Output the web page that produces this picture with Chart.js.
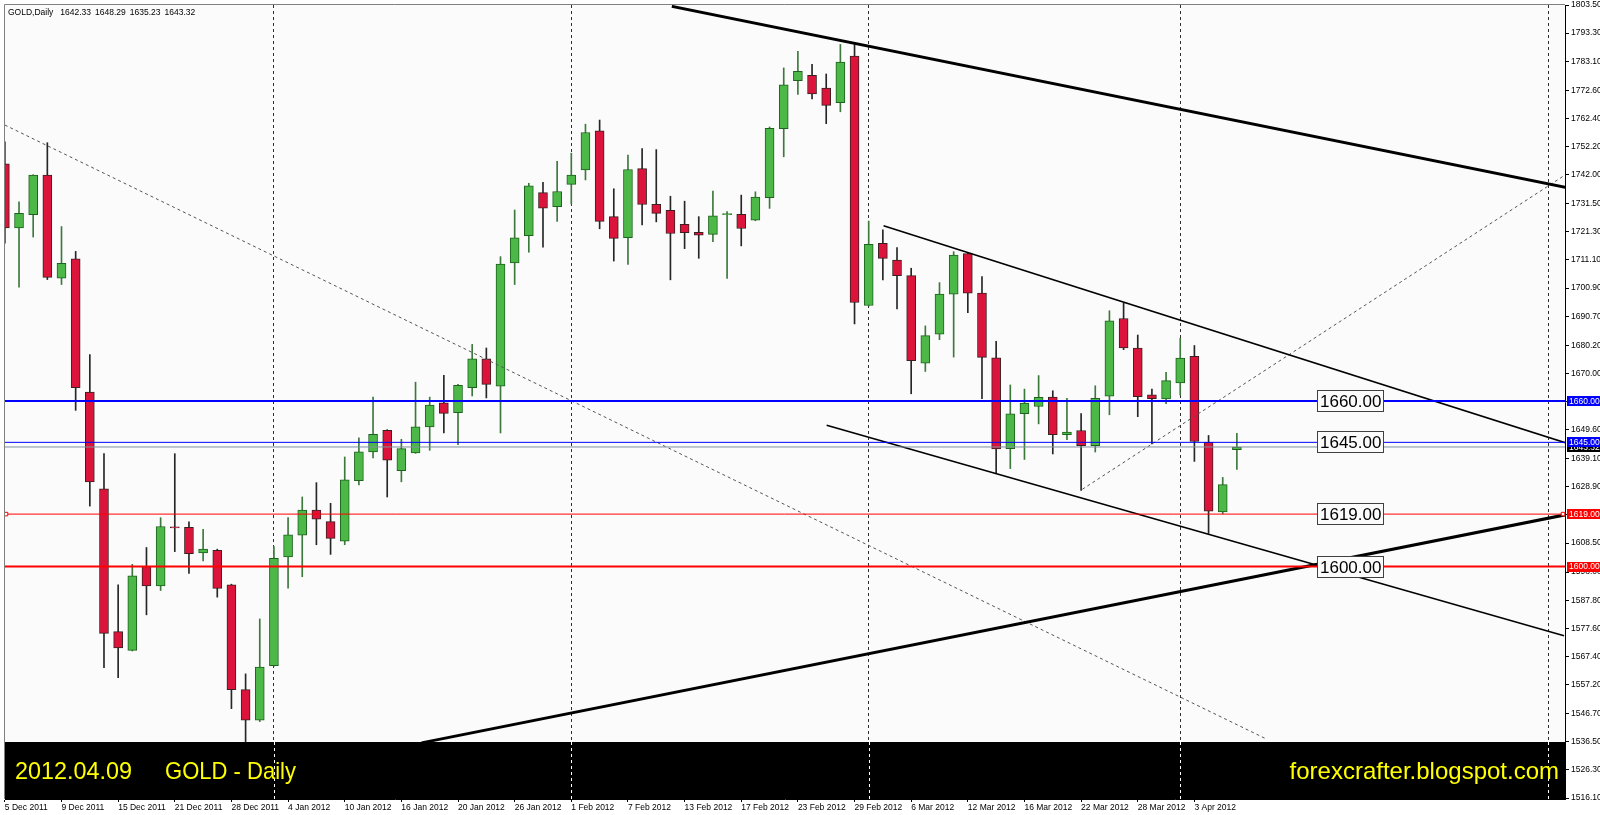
<!DOCTYPE html>
<html>
<head>
<meta charset="utf-8">
<title>GOLD Daily</title>
<script src="https://cdn.jsdelivr.net/npm/chart.js@4.4.1/dist/chart.umd.min.js"></script>
<style>
  html, body { margin: 0; padding: 0; background: #fff; }
  canvas { display: block; }
</style>
</head>
<body>
<canvas id="chart" width="1600" height="815"></canvas>
<script>
// Daily OHLC bars, 5 Dec 2011 .. 9 Apr 2012
const opens = [
  1745.9, 1722.7, 1727.5, 1741.9, 1704.5, 1711.5, 1663.2, 1628.2, 1576.4, 1569.6,
  1600.0, 1593.0, 1614.4, 1614.2, 1604.9, 1605.9, 1593.4, 1555.4, 1544.3, 1564.1,
  1603.5, 1611.4, 1620.5, 1616.3, 1609.2, 1631.1, 1641.5, 1649.4, 1634.7, 1641.2,
  1650.6, 1659.3, 1655.8, 1664.8, 1675.3, 1665.4, 1710.0, 1719.9, 1735.5, 1730.4,
  1738.5, 1743.7, 1757.9, 1726.8, 1719.2, 1744.2, 1731.3, 1729.1, 1724.0, 1721.1,
  1720.4, 1727.5, 1727.6, 1725.5, 1733.7, 1758.7, 1776.1, 1778.0, 1773.4, 1768.1,
  1785.0, 1694.6, 1717.1, 1711.1, 1705.4, 1673.7, 1684.2, 1698.7, 1713.4, 1699.1,
  1675.6, 1642.7, 1655.4, 1658.0, 1661.4, 1647.8, 1649.3, 1643.8, 1661.7, 1689.9,
  1679.2, 1662.2, 1660.7, 1666.5, 1676.2, 1645.0, 1619.8, 1642.33
];
const highs = [
  1753.9, 1732.2, 1742.0, 1753.6, 1723.2, 1714.2, 1676.8, 1640.9, 1593.4, 1600.8,
  1606.9, 1617.7, 1640.9, 1616.2, 1613.5, 1606.3, 1593.6, 1561.1, 1581.0, 1607.2,
  1617.7, 1625.2, 1630.4, 1622.9, 1639.7, 1646.6, 1661.4, 1649.6, 1646.1, 1666.8,
  1661.4, 1669.3, 1666.0, 1680.5, 1679.2, 1712.3, 1729.2, 1738.9, 1739.2, 1746.8,
  1749.8, 1760.3, 1761.8, 1736.9, 1749.1, 1751.5, 1751.1, 1734.2, 1732.4, 1726.8,
  1736.1, 1728.6, 1734.6, 1735.8, 1759.3, 1780.7, 1786.7, 1782.0, 1778.5, 1789.2,
  1789.2, 1725.2, 1722.0, 1715.6, 1708.1, 1687.2, 1702.9, 1714.1, 1713.6, 1705.1,
  1681.6, 1665.8, 1664.3, 1669.2, 1663.7, 1661.0, 1655.4, 1665.5, 1692.7, 1695.4,
  1683.9, 1664.3, 1670.4, 1682.7, 1680.1, 1647.5, 1632.3, 1648.29
];
const lows = [
  1717.2, 1701.2, 1719.4, 1704.0, 1702.2, 1656.6, 1621.9, 1563.3, 1559.7, 1569.4,
  1582.5, 1591.3, 1605.4, 1597.5, 1602.0, 1588.9, 1548.5, 1534.0, 1543.8, 1563.9,
  1592.2, 1596.3, 1607.9, 1604.4, 1607.9, 1629.6, 1639.4, 1625.2, 1630.7, 1641.0,
  1642.1, 1648.4, 1644.2, 1661.8, 1661.1, 1648.4, 1702.2, 1713.9, 1715.7, 1725.1,
  1731.4, 1740.1, 1722.4, 1710.7, 1709.5, 1723.8, 1724.9, 1703.9, 1715.2, 1711.7,
  1717.7, 1704.4, 1716.2, 1725.3, 1729.8, 1748.5, 1771.1, 1769.5, 1760.5, 1764.8,
  1687.9, 1694.4, 1703.9, 1693.4, 1662.6, 1670.7, 1682.2, 1675.9, 1692.0, 1660.8,
  1634.0, 1635.5, 1638.8, 1651.7, 1640.8, 1646.0, 1627.6, 1641.5, 1655.0, 1678.6,
  1654.3, 1644.4, 1659.0, 1662.2, 1638.1, 1612.0, 1619.1, 1635.23
];
const closes = [
  1722.7, 1728.0, 1741.9, 1704.8, 1709.9, 1664.8, 1630.7, 1575.8, 1570.5, 1596.6,
  1593.0, 1614.5, 1614.0, 1604.7, 1606.3, 1592.1, 1555.4, 1544.3, 1563.6, 1603.0,
  1611.5, 1620.5, 1617.2, 1610.2, 1631.4, 1641.6, 1647.9, 1638.5, 1642.7, 1650.6,
  1658.5, 1655.5, 1665.7, 1675.3, 1666.0, 1709.6, 1719.1, 1738.0, 1729.9, 1735.9,
  1741.9, 1757.3, 1725.1, 1718.9, 1743.9, 1731.2, 1728.0, 1720.7, 1721.0, 1720.1,
  1727.1, 1727.9, 1722.5, 1733.9, 1758.8, 1774.6, 1779.5, 1771.3, 1767.1, 1782.8,
  1695.7, 1716.8, 1711.7, 1705.4, 1674.6, 1683.7, 1698.7, 1712.9, 1699.1, 1675.8,
  1642.6, 1655.3, 1659.2, 1661.3, 1647.8, 1648.7, 1643.8, 1661.0, 1689.0, 1679.2,
  1661.6, 1660.8, 1667.4, 1675.5, 1645.3, 1620.1, 1629.7, 1643.32
];

// date labels, one every 4 bars
const dateLabels = [
  '5 Dec 2011', '9 Dec 2011', '15 Dec 2011', '21 Dec 2011', '28 Dec 2011',
  '4 Jan 2012', '10 Jan 2012', '16 Jan 2012', '20 Jan 2012', '26 Jan 2012',
  '1 Feb 2012', '7 Feb 2012', '13 Feb 2012', '17 Feb 2012', '23 Feb 2012',
  '29 Feb 2012', '6 Mar 2012', '12 Mar 2012', '16 Mar 2012', '22 Mar 2012',
  '28 Mar 2012', '3 Apr 2012'
];
const labelStep = 4;

// price scale ticks as the terminal prints them
const priceTicks = [
  1803.5, 1793.3, 1783.1, 1772.6, 1762.4, 1752.2, 1742.0, 1731.5, 1721.3, 1711.1,
  1700.9, 1690.7, 1680.2, 1670.0, 1659.8, 1649.6, 1639.1, 1628.9, 1618.7, 1608.5,
  1598.0, 1587.8, 1577.6, 1567.4, 1557.2, 1546.7, 1536.5, 1526.3, 1516.1
];

// bars where the dotted period separators sit
const separatorBars = [19, 40, 61, 83, 109];

// horizontal levels
const levels = [1660, 1645, 1619, 1600];

// trend lines, as [bar index] / [price] pairs
const resistX = [47.1, 110.24], resistY = [1803.0, 1737.4];
const supportX = [29.42, 110.24], supportY = [1536.1, 1618.8];
const chanTopX = [62.05, 110.24], chanTopY = [1723.5, 1644.8];
const chanBotX = [58.03, 110.1], chanBotY = [1651.2, 1574.9];
const fanX = [0, 89.0], fanY = [1760.0, 1537.7];
const riseX = [76.09, 110.24], riseY = [1628.0, 1742.1];

const bandTopPrice = 1536.4;

const X_MIN = 0.01, X_MAX = 110.17;
const Y_MIN = 1515.75, Y_MAX = 1803.5;

const FONT = 'Liberation Sans';

const barIdx = opens.map((o, i) => i);
const isUp = i => closes[i] >= opens[i];

function segment(xs, ys) {
    return xs.map((x, k) => ({ x: x, y: ys[k] }));
}

function lineSet(label, data, color, width, dash) {
    return {
        type: 'line',
        label: label,
        data: data,
        borderColor: color,
        borderWidth: width,
        borderDash: dash || [],
        pointRadius: 0,
        fill: false,
        tension: 0,
        order: 1,
        xAxisID: 'x',
        yAxisID: 'y'
    };
}

const lastBar = opens.length - 1;
const bidPrice = closes[lastBar];

const level1619 = lineSet('1619', segment([0.08, 110.03], [levels[2], levels[2]]), '#ff0000', 1);
level1619.pointRadius = 2.5;
level1619.pointStyle = 'rect';
level1619.pointBackgroundColor = '#ffffff';
level1619.pointBorderColor = '#ff0000';
level1619.pointBorderWidth = 1;

const datasets = [
    lineSet('1660', segment([X_MIN, X_MAX], [levels[0], levels[0]]), '#0000ff', 2),
    lineSet('1645', segment([X_MIN, X_MAX], [levels[1], levels[1]]), '#0000ff', 1),
    lineSet('bid', segment([X_MIN, X_MAX], [bidPrice, bidPrice]), '#7f8fa0', 1),
    level1619,
    lineSet('1600', segment([X_MIN, X_MAX], [levels[3], levels[3]]), '#ff0000', 2),
    lineSet('resistance', segment(resistX, resistY), '#000000', 3),
    lineSet('support', segment(supportX, supportY), '#000000', 3),
    lineSet('channel top', segment(chanTopX, chanTopY), '#000000', 1.6),
    lineSet('channel bottom', segment(chanBotX, chanBotY), '#000000', 1.6),
    lineSet('fan', segment(fanX, fanY), '#555555', 1, [3, 3]),
    lineSet('rise', segment(riseX, riseY), '#555555', 1, [3, 3]),
    {
        type: 'bar',
        label: 'bodies',
        data: barIdx.map(i => ({ x: i, y: [opens[i], closes[i]] })),
        barThickness: 9,
        backgroundColor: barIdx.map(i => isUp(i) ? '#4cb848' : '#dc143c'),
        borderColor: barIdx.map(i => isUp(i) ? '#1d621d' : '#3a2020'),
        borderWidth: 1,
        borderSkipped: false,
        grouped: false,
        order: 2,
        xAxisID: 'x',
        yAxisID: 'y'
    },
    {
        type: 'bar',
        label: 'wicks',
        data: barIdx.map(i => ({ x: i, y: [lows[i], highs[i]] })),
        barThickness: 1,
        backgroundColor: barIdx.map(i => isUp(i) ? '#3d783d' : '#262626'),
        borderWidth: 0,
        grouped: false,
        order: 3,
        xAxisID: 'x',
        yAxisID: 'y'
    }
];

// plot background and thin frame on left/top
const backdrop = {
    id: 'backdrop',
    beforeDraw(chart) {
        const { ctx, chartArea: a } = chart;
        ctx.save();
        ctx.fillStyle = '#ffffff';
        ctx.fillRect(0, 0, chart.width, chart.height);
        ctx.fillStyle = '#fbfbfb';
        ctx.fillRect(a.left, a.top, a.right - a.left, a.bottom - a.top);
        ctx.restore();
    },
    afterDraw(chart) {
        const { ctx, chartArea: a } = chart;
        ctx.save();
        ctx.strokeStyle = '#808080';
        ctx.lineWidth = 1;
        ctx.beginPath();
        ctx.moveTo(a.left - 0.5, a.bottom);
        ctx.lineTo(a.left - 0.5, a.top - 0.5);
        ctx.lineTo(a.right, a.top - 0.5);
        ctx.stroke();
        ctx.restore();
    }
};

// black caption band at the foot of the plot
const captionBand = {
    id: 'captionBand',
    afterDatasetsDraw(chart) {
        const { ctx, chartArea: a, scales } = chart;
        const top = Math.round(scales.y.getPixelForValue(bandTopPrice));
        ctx.save();
        ctx.fillStyle = '#000000';
        ctx.fillRect(a.left, top, a.right - a.left, a.bottom - top);

        // separators show through the band in white
        ctx.strokeStyle = '#ffffff';
        ctx.lineWidth = 1;
        ctx.setLineDash([3, 3]);
        scales.x2.ticks.forEach(t => {
            const px = Math.round(scales.x2.getPixelForValue(t.value)) + 0.5;
            ctx.beginPath();
            ctx.moveTo(px, top);
            ctx.lineTo(px, a.bottom);
            ctx.stroke();
        });
        ctx.setLineDash([]);

        ctx.fillStyle = '#ffff00';
        ctx.font = '24px "' + FONT + '"';
        ctx.textBaseline = 'alphabetic';
        const base = a.bottom - 20;
        ctx.textAlign = 'left';
        ctx.fillText('2012.04.09', a.left + 10, base, 117);
        ctx.fillText('GOLD - Daily', a.left + 160, base, 131);
        ctx.textAlign = 'right';
        ctx.fillText('forexcrafter.blogspot.com', a.right - 6, base, 270);
        ctx.restore();
    }
};

// price labels: boxed ones inside the plot, coloured ones on the axis
const priceLabels = {
    id: 'priceLabels',
    afterDraw(chart) {
        const { ctx, chartArea: a, scales } = chart;
        const yS = scales.y, xS = scales.x;
        ctx.save();

        // boxed labels in the plot
        const boxLeft = Math.round(xS.getPixelForValue(92.66)) + 0.5;
        ctx.font = '17px "' + FONT + '"';
        ctx.textBaseline = 'middle';
        ctx.textAlign = 'left';
        levels.forEach(v => {
            const cy = Math.round(yS.getPixelForValue(v));
            ctx.fillStyle = '#fbfbfb';
            ctx.fillRect(boxLeft, cy - 10, 66, 21);
            ctx.strokeStyle = '#404040';
            ctx.lineWidth = 1;
            ctx.strokeRect(boxLeft, cy - 10.5, 66, 21);
            ctx.fillStyle = '#000000';
            ctx.fillText(v.toFixed(2), boxLeft + 2.5, cy + 1, 62);
        });

        // axis tags
        ctx.font = '8.5px "' + FONT + '"';
        const tag = (v, bg) => {
            const cy = yS.getPixelForValue(v);
            ctx.fillStyle = bg;
            ctx.fillRect(a.right + 2, Math.round(cy - 5), chart.width - a.right - 2, 10);
            ctx.fillStyle = '#ffffff';
            ctx.fillText(v.toFixed(2), a.right + 4, cy + 0.5);
        };
        tag(bidPrice, '#000000');
        tag(levels[0], '#0000ff');
        tag(levels[1], '#0000ff');
        tag(levels[2], '#ff0000');
        tag(levels[3], '#ff0000');

        // symbol header
        ctx.fillStyle = '#000000';
        ctx.font = '8.5px "' + FONT + '"';
        let hx = a.left + 3;
        const hy = a.top + 8;
        ctx.fillText('GOLD,Daily', hx, hy);
        hx += ctx.measureText('GOLD,Daily').width + 7;
        [opens[lastBar], highs[lastBar], lows[lastBar], closes[lastBar]].forEach(v => {
            const s = v.toFixed(2);
            ctx.fillText(s, hx, hy);
            hx += ctx.measureText(s).width + 4;
        });
        ctx.restore();
    }
};

new Chart(document.getElementById('chart'), {
    type: 'bar',
    data: { datasets: datasets },
    options: {
        responsive: false,
        devicePixelRatio: 1,
        animation: false,
        events: [],
        layout: { padding: { left: 3, top: 2, right: 0, bottom: 0 } },
        plugins: {
            legend: { display: false },
            tooltip: { enabled: false }
        },
        scales: {
            x: {
                type: 'linear',
                position: 'bottom',
                min: X_MIN,
                max: X_MAX,
                offset: false,
                afterBuildTicks: (scale) => {
                    scale.ticks = dateLabels.map((d, k) => ({ value: k * labelStep }));
                },
                afterFit: (scale) => {
                    scale.height = 16;
                    scale.paddingLeft = 0;
                    scale.paddingRight = 0;
                },
                ticks: {
                    align: 'start',
                    autoSkip: false,
                    maxRotation: 0,
                    minRotation: 0,
                    padding: 1,
                    color: '#000000',
                    font: { family: FONT, size: 8.5 },
                    callback: (v) => dateLabels[Math.round(v / labelStep)] || ''
                },
                grid: {
                    offset: false,
                    drawOnChartArea: false,
                    drawTicks: true,
                    tickLength: 3,
                    tickColor: '#000000'
                },
                border: { color: '#000000', width: 1 }
            },
            x2: {
                type: 'linear',
                position: 'top',
                min: X_MIN,
                max: X_MAX,
                offset: false,
                afterBuildTicks: (scale) => {
                    scale.ticks = separatorBars.map(b => ({ value: b }));
                },
                afterFit: (scale) => {
                    scale.height = 0;
                    scale.paddingLeft = 0;
                    scale.paddingRight = 0;
                },
                ticks: { display: false },
                grid: {
                    offset: false,
                    drawTicks: false,
                    color: '#303030',
                    lineWidth: 1
                },
                border: { display: false, dash: [3, 3] }
            },
            y: {
                type: 'linear',
                position: 'right',
                min: Y_MIN,
                max: Y_MAX,
                afterBuildTicks: (scale) => {
                    scale.ticks = priceTicks.map(v => ({ value: v }));
                },
                afterFit: (scale) => {
                    scale.width = 35;
                    scale.paddingTop = 0;
                    scale.paddingBottom = 0;
                },
                ticks: {
                    padding: 2,
                    color: '#000000',
                    font: { family: FONT, size: 8.5 },
                    callback: (v) => Number(v).toFixed(2)
                },
                grid: {
                    drawOnChartArea: false,
                    drawTicks: true,
                    tickLength: 4,
                    tickColor: '#000000'
                },
                border: { color: '#000000', width: 1 }
            }
        }
    },
    plugins: [backdrop, captionBand, priceLabels]
});
</script>
</body>
</html>
